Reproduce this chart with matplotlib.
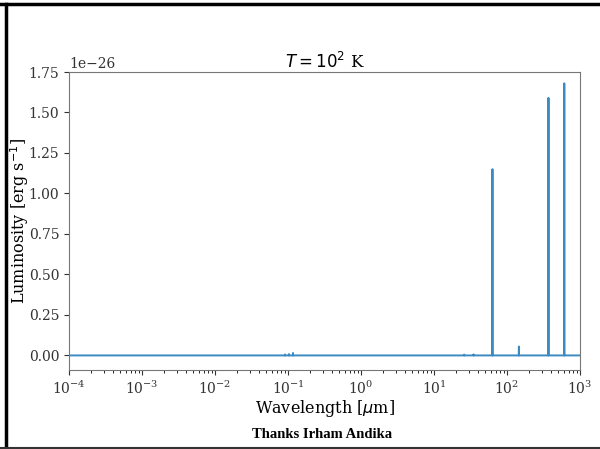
import numpy as np
import matplotlib
matplotlib.use("Agg")
import matplotlib.pyplot as plt
from matplotlib.lines import Line2D

# emission lines (wavelength in micron, luminosity in 1e-26 erg/s)
line_wave = [0.091, 0.103, 0.117, 25.9, 34.8, 63.2, 145.5, 370.0, 609.0]
line_lum = [0.006, 0.008, 0.015, 0.005, 0.006, 1.15, 0.055, 1.59, 1.68]
wave_min, wave_max = 1e-4, 1e3
scale = 1e-26

# build spectrum: flat zero continuum with narrow spikes
x = [wave_min]
y = [0.0]
for w, h in zip(line_wave, line_lum):
    x += [w * 0.999, w, w * 1.001]
    y += [0.0, h * scale, 0.0]
x.append(wave_max)
y.append(0.0)

plt.rcParams['font.family'] = 'DejaVu Serif'
plt.rcParams['axes.edgecolor'] = '#777777'

fig = plt.figure(figsize=(6.0, 4.49), dpi=100)
ax = fig.add_axes([69/600, 1 - 370/449, (580-69)/600, (370-72)/449])
ax.plot(x, y, color='#3b8bc2', lw=1.4)
ax.set_xscale('log')
ax.set_xlim(wave_min, wave_max)
ax.set_ylim(-0.09 * scale, 1.75 * scale)
ax.set_yticks(np.arange(0, 1.76, 0.25) * scale)
ax.tick_params(labelsize=10, colors='#333333')
ax.set_xlabel(r'Wavelength [$\mu$m]', fontsize=11.5, labelpad=0.5)
ax.set_ylabel(r'Luminosity [erg s$^{-1}$]', fontsize=11.5, labelpad=-1.5)
ax.set_title(r'$T = 10^2$ K', fontsize=12, pad=2)
ax.yaxis.get_offset_text().set_fontsize(10)

fig.text(322/600, 1 - 434/449, 'Thanks Irham Andika', family='Liberation Serif',
         weight='bold', fontsize=10.5, ha='center', va='center')

# frame of the screenshot
fig.add_artist(Line2D([0, 1], [1 - 4/449, 1 - 4/449], color='black', lw=2.5))
fig.add_artist(Line2D([6/600, 6/600], [0, 1 - 4/449], color='black', lw=2.5))
fig.add_artist(Line2D([0, 1], [1/449, 1/449], color='#333333', lw=1.5))

fig.savefig('out.png', dpi=100)
